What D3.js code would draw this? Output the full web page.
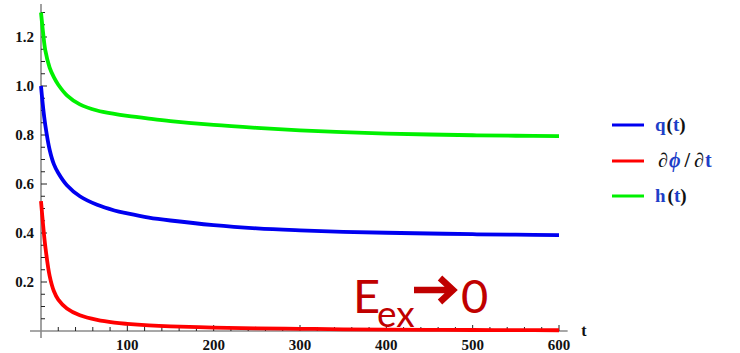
<!DOCTYPE html>
<html>
<head>
<meta charset="utf-8">
<script src="https://cdn.jsdelivr.net/npm/d3@7"></script>
<style>
  html, body { margin: 0; padding: 0; background: #fff; }
  svg { display: block; }
  .serif { font-family: "Liberation Serif", "DejaVu Serif", "Times New Roman", serif; font-weight: bold; }
</style>
</head>
<body>
<svg id="chart" width="740" height="353"></svg>
<script>
// Sample times and the three relaxation curves
const times = [0, 2.5, 5, 10, 15, 20, 30, 45, 65, 85, 100, 125, 150, 200, 250, 300, 350, 400, 450, 500, 550, 600];
const hValues = [1.30, 1.215, 1.145, 1.075, 1.035, 1.005, 0.962, 0.925, 0.900, 0.886, 0.878, 0.867, 0.857, 0.841, 0.829, 0.819, 0.812, 0.806, 0.802, 0.799, 0.797, 0.795];
const qValues = [1.00, 0.91, 0.84, 0.74, 0.68, 0.645, 0.595, 0.550, 0.515, 0.492, 0.480, 0.463, 0.451, 0.432, 0.419, 0.411, 0.405, 0.401, 0.398, 0.395, 0.393, 0.391];
const dphiValues = [0.53, 0.43, 0.345, 0.225, 0.162, 0.128, 0.092, 0.064, 0.045, 0.034, 0.029, 0.023, 0.019, 0.014, 0.011, 0.009, 0.007, 0.006, 0.005, 0.004, 0.0035, 0.003];

const xMajorTicks = [100, 200, 300, 400, 500, 600];
const yMajorTicks = [0.2, 0.4, 0.6, 0.8, 1.0, 1.2];
const yTickLabels = ["0.2", "0.4", "0.6", "0.8", "1.0", "1.2"];

const svg = d3.select("#chart");

const x = d3.scaleLinear().domain([0, 600]).range([41, 559]);
const y = d3.scaleLinear().domain([0, 1]).range([331, 86]);

const axisColor = "#8a8a8a";
const tickColor = "#222";

// Axis lines (slightly overshooting the origin)
svg.append("line")
  .attr("x1", x(0)).attr("x2", x(0))
  .attr("y1", y(1.335)).attr("y2", y(0) + 7)
  .attr("stroke", axisColor).attr("stroke-width", 1.6);
svg.append("line")
  .attr("x1", x(0) - 11).attr("x2", x(610))
  .attr("y1", y(0)).attr("y2", y(0))
  .attr("stroke", axisColor).attr("stroke-width", 1.6);

// Y ticks: minor every 0.05, major every 0.2
const yMinor = d3.range(1, 27).map(i => i * 0.05);
svg.append("g").selectAll("line").data(yMinor).join("line")
  .attr("x1", x(0)).attr("y1", d => y(d)).attr("y2", d => y(d))
  .attr("x2", d => x(0) + (yMajorTicks.some(m => Math.abs(m - d) < 1e-6) ? 6 : 4))
  .attr("stroke", tickColor).attr("stroke-width", 1);

svg.append("g").selectAll("text").data(yMajorTicks).join("text")
  .attr("class", "serif")
  .attr("x", 34).attr("y", d => y(d) + 5)
  .attr("text-anchor", "end")
  .attr("font-size", 15)
  .attr("fill", "#111")
  .text((d, i) => yTickLabels[i]);

// X ticks: minor every 20, major every 100
const xMinor = d3.range(1, 31).map(i => i * 20);
svg.append("g").selectAll("line").data(xMinor).join("line")
  .attr("x1", d => x(d)).attr("x2", d => x(d))
  .attr("y1", y(0))
  .attr("y2", d => y(0) - (d % 100 === 0 ? 6 : 4))
  .attr("stroke", tickColor).attr("stroke-width", 1);

svg.append("g").selectAll("text").data(xMajorTicks).join("text")
  .attr("class", "serif")
  .attr("x", d => x(d)).attr("y", 350)
  .attr("text-anchor", "middle")
  .attr("font-size", 15)
  .attr("fill", "#111")
  .text(d => d);

svg.append("text")
  .attr("class", "serif")
  .attr("x", 584).attr("y", 336)
  .attr("text-anchor", "middle")
  .attr("font-size", 16)
  .attr("fill", "#111")
  .text("t");

// Curves
const line = d3.line().x(d => x(d[0])).y(d => y(d[1])).curve(d3.curveCatmullRom.alpha(0.5));
const series = [
  { values: hValues, color: "#00f000" },
  { values: qValues, color: "#0000f0" },
  { values: dphiValues, color: "#ff0000" }
];
svg.append("g").selectAll("path").data(series).join("path")
  .attr("d", s => line(times.map((t, i) => [t, s.values[i]])))
  .attr("fill", "none")
  .attr("stroke", s => s.color)
  .attr("stroke-width", 3.8)
  .attr("stroke-linejoin", "round");

// Legend
const legendBlue = "#1e3fc8";
const legendRows = [
  { y: 125, color: "#0000f0" },
  { y: 161, color: "#ff0000" },
  { y: 196, color: "#00f000" }
];
svg.append("g").selectAll("line").data(legendRows).join("line")
  .attr("x1", 612).attr("x2", 644)
  .attr("y1", d => d.y).attr("y2", d => d.y)
  .attr("stroke", d => d.color).attr("stroke-width", 3);

const lg = svg.append("g").attr("class", "serif").attr("font-size", 19);

const t1 = lg.append("text").attr("x", 655).attr("y", 131);
t1.append("tspan").attr("fill", legendBlue).text("q");
t1.append("tspan").attr("fill", "#111").attr("dx", 1).text("(");
t1.append("tspan").attr("fill", legendBlue).text("t");
t1.append("tspan").attr("fill", "#111").text(")");

const t2 = lg.append("text").attr("x", 658).attr("y", 167).attr("font-size", 20);
t2.append("tspan").attr("fill", "#111").attr("font-style", "italic").text("∂");
t2.append("tspan").attr("fill", legendBlue).attr("font-style", "italic").attr("dx", 1).text("ϕ");
t2.append("tspan").attr("fill", "#111").attr("dx", 4).text("/");
t2.append("tspan").attr("fill", "#111").attr("font-style", "italic").attr("dx", 4).text("∂");
t2.append("tspan").attr("fill", legendBlue).attr("dx", 1).text("t");

const t3 = lg.append("text").attr("x", 655).attr("y", 202);
t3.append("tspan").attr("fill", legendBlue).text("h");
t3.append("tspan").attr("fill", "#111").attr("dx", 2).text("(");
t3.append("tspan").attr("fill", legendBlue).text("t");
t3.append("tspan").attr("fill", "#111").text(")");

// Annotation: E_ex → 0
const annColor = "#c00000";
const ann = svg.append("g").attr("fill", annColor).attr("font-family", "Lato, 'Open Sans', sans-serif");
ann.append("text").attr("x", 353).attr("y", 313).attr("font-size", 47).text("E");
ann.append("text").attr("x", 377).attr("y", 327).attr("font-size", 37).text("ex");
// arrow: thick shaft with chevron head
svg.append("path")
  .attr("d", "M414,290 H452 M440,278 L453,290 L440,302")
  .attr("fill", "none").attr("stroke", annColor)
  .attr("stroke-width", 6.5).attr("stroke-linejoin", "miter").attr("stroke-linecap", "butt");
ann.append("text").attr("x", 461).attr("y", 313).attr("font-size", 47).text("0");
</script>
</body>
</html>
